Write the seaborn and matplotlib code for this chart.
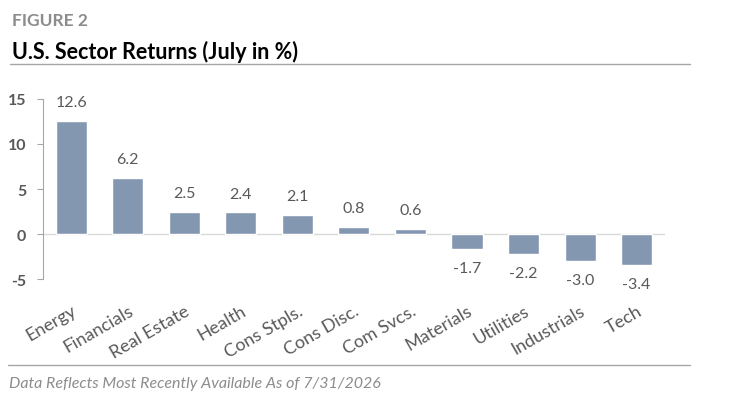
import numpy as np
import pandas as pd
import seaborn as sns
import matplotlib.pyplot as plt

sectors = ["Energy", "Financials", "Real Estate", "Health", "Cons Stpls.",
           "Cons Disc.", "Com Svcs.", "Materials", "Utilities", "Industrials", "Tech"]
returns = [12.6, 6.2, 2.5, 2.4, 2.1, 0.8, 0.6, -1.7, -2.2, -3.0, -3.4]
yticks = [-5, 0, 5, 10, 15]

bar_color = "#8497B0"
text_gray = "#595959"

sns.set_style("white")
plt.rcParams['font.family'] = ['Lato', 'DejaVu Sans']

df = pd.DataFrame({"sector": sectors, "ret": returns})

fig = plt.figure(figsize=(7.29, 4.06), dpi=100)
ax = fig.add_axes([0.059, 0.310, 0.853, 0.444])

sns.barplot(x="sector", y="ret", data=df, color=bar_color, width=0.55,
            saturation=1, ax=ax)

ax.set_ylim(-5, 15)
ax.set_xlim(-0.5, len(sectors) - 0.5)
ax.set_yticks(yticks)
ax.set_yticklabels([str(t) for t in yticks], fontsize=11.5, fontweight="bold", color=text_gray)
ax.set_xticks(range(len(sectors)))
ax.set_xticklabels(sectors, rotation=30, ha="right", rotation_mode="anchor",
                   fontsize=13, color=text_gray)
ax.set_xlabel("")
ax.set_ylabel("")

for s in ["top", "right", "bottom"]:
    ax.spines[s].set_visible(False)
ax.spines["left"].set_color("#a6a6a6")
ax.spines["left"].set_linewidth(0.8)
ax.axhline(0, color="#d9d9d9", lw=1, zorder=0)
ax.tick_params(axis="y", which="both", left=True, length=4, width=0.8,
               color="#a6a6a6", pad=8)
ax.tick_params(axis="x", bottom=False, pad=13)

for i, v in enumerate(returns):
    off = 2.1 if v >= 0 else -2.1
    ax.text(i, v + off, f"{v:.1f}", ha="center", va="center", fontsize=11.5, color=text_gray)

fig.text(0.016, 0.935, "FIGURE 2", fontsize=12.5, fontweight="bold", color="#8c8c8c")
fig.text(0.016, 0.855, "U.S. Sector Returns (July in %)", fontsize=15.5, fontweight="bold", color="#000000")
fig.add_artist(plt.Line2D([0.014, 0.946], [0.840, 0.840], color="#a6a6a6", lw=1))
fig.add_artist(plt.Line2D([0.011, 0.946], [0.098, 0.098], color="#a6a6a6", lw=1))
fig.text(0.012, 0.045, "Data Reflects Most Recently Available As of 7/31/2026",
         fontsize=11.5, style="italic", color="#8c8c8c")

fig.savefig("out.png", dpi=100)
